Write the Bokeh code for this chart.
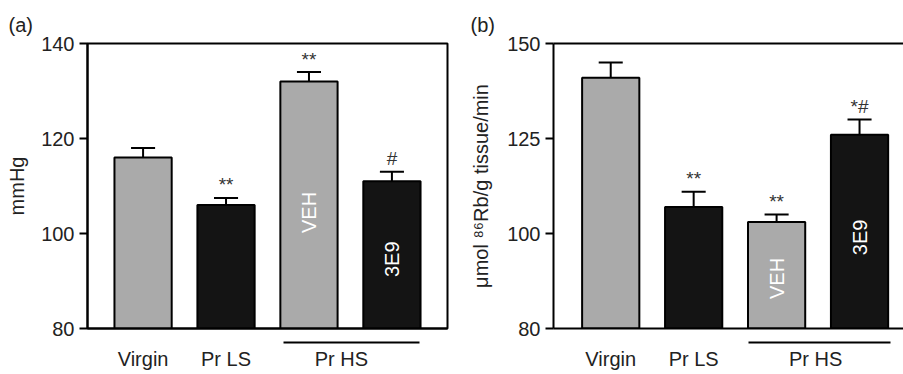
import math
from bokeh.plotting import figure
from bokeh.layouts import row
from bokeh.models import FixedTicker, LinearAxis, Range1d
from bokeh.core.properties import value
from bokeh.embed import file_html
from bokeh.resources import INLINE

FONT = "Liberation Sans"
TXT = "#222222"

# ---------------- data ----------------
groups = ["Virgin", "Pr LS", "Pr HS VEH", "Pr HS 3E9"]
x_pos = [1, 2, 3, 4]
bar_colors = ["#aaaaaa", "#141414", "#aaaaaa", "#141414"]
inbar_labels = ["", "", "VEH", "3E9"]

a_mean = [116, 106, 132, 111]
a_err = [2.0, 1.5, 2.0, 2.0]
a_sig = ["", "**", "**", "#"]
a_ticks = [80, 100, 120, 140]
a_tick_labels = ["80", "100", "120", "140"]

b_mean = [141, 107, 103, 126]
b_err = [4.0, 4.0, 2.0, 4.0]
b_sig = ["", "**", "**", "*#"]
b_ticks = [75, 100, 125, 150]
b_tick_labels = ["80", "100", "125", "150"]

cat_labels = ["Virgin", "Pr LS", "Pr HS"]


def make_panel(mean, err, sig, ticks, tick_labels, ylabel, panel_label,
               xr, fw, bl, br, full_box, hs_pos, bracket, ylab_standoff,
               title_offset):
    lo, hi = ticks[0], ticks[-1]
    p = figure(frame_width=fw, frame_height=285, x_range=Range1d(*xr),
               y_range=Range1d(lo, hi), output_backend="svg", toolbar_location=None,
               min_border_left=bl, min_border_right=br, min_border_top=43,
               min_border_bottom=46)
    p.grid.visible = False
    p.background_fill_color = "white"
    p.border_fill_color = "white"

    p.title.text = panel_label
    p.title.align = "left"
    p.title.offset = title_offset
    p.title.standoff = 15
    p.title.text_font = FONT
    p.title.text_font_size = "20px"
    p.title.text_font_style = "normal"
    p.title.text_color = TXT

    ya = p.left[0]
    ya.ticker = FixedTicker(ticks=ticks)
    ya.major_label_overrides = {t: l for t, l in zip(ticks, tick_labels)}
    ya.axis_line_width = 2
    ya.major_tick_line_width = 2
    ya.major_tick_out = 8
    ya.major_tick_in = 0
    ya.minor_tick_line_color = None
    ya.major_label_text_font = FONT
    ya.major_label_text_font_size = "20px"
    ya.major_label_text_color = TXT
    ya.major_label_standoff = 5
    ya.axis_label = ylabel
    ya.axis_label_text_font = FONT
    ya.axis_label_text_font_size = "20px"
    ya.axis_label_text_font_style = "normal"
    ya.axis_label_text_color = TXT
    ya.axis_label_standoff = ylab_standoff

    # bottom frame line; an invisible tick reserves the gap above the bracket
    xa = p.below[0]
    xa.ticker = FixedTicker(ticks=[1])
    xa.major_label_overrides = {1: ""}
    xa.major_tick_line_color = None
    xa.minor_tick_line_color = None
    xa.major_tick_out = 14
    xa.major_tick_in = 0
    xa.major_label_standoff = 0
    xa.major_label_text_font_size = "1px"
    xa.axis_line_width = 2

    # group bracket under "Pr HS"
    br_axis = LinearAxis(ticker=FixedTicker(ticks=[]), bounds=bracket,
                         major_tick_line_color=None, minor_tick_line_color=None,
                         major_tick_out=0, major_tick_in=0, major_label_standoff=0,
                         axis_line_width=2, axis_line_color="black")
    p.add_layout(br_axis, "below")

    # category labels
    lab_axis = LinearAxis(ticker=FixedTicker(ticks=[1, 2, hs_pos]),
                          major_label_overrides={t: l for t, l in zip([1, 2, hs_pos], cat_labels)},
                          axis_line_color=None, major_tick_line_color=None,
                          minor_tick_line_color=None, major_tick_out=0, major_tick_in=0,
                          major_label_standoff=5, major_label_text_font=FONT,
                          major_label_text_font_size="20px", major_label_text_color=TXT)
    p.add_layout(lab_axis, "below")

    if full_box:
        p.outline_line_color = "black"
        p.outline_line_width = 2
    else:
        p.outline_line_color = None
        p.add_layout(LinearAxis(ticker=FixedTicker(ticks=[]), major_tick_line_color=None,
                                minor_tick_line_color=None, major_tick_out=0,
                                major_tick_in=0, major_label_standoff=0,
                                axis_line_width=2, axis_line_color="black"), "above")

    p.vbar(x=x_pos, top=mean, bottom=lo, width=0.69, fill_color=bar_colors,
           line_color="black", line_width=2)

    tops = [m + e for m, e in zip(mean, err)]
    p.segment(x0=x_pos, y0=mean, x1=x_pos, y1=tops, line_color="black", line_width=2)
    p.segment(x0=[x - 0.145 for x in x_pos], y0=tops, x1=[x + 0.145 for x in x_pos],
              y1=tops, line_color="black", line_width=2)

    p.text(x=x_pos, y=tops, text=sig, text_align="center", text_baseline="alphabetic",
           y_offset=-13, text_font=value(FONT), text_font_size="19px",
           text_color="#333333")

    mids = [lo + 0.47 * (m - lo) for m in mean]
    p.text(x=x_pos, y=mids, text=inbar_labels, angle=math.pi / 2,
           text_align="center", text_baseline="middle", text_font=value(FONT),
           text_font_size="20px", text_color="white")
    return p


pa = make_panel(a_mean, a_err, a_sig, a_ticks, a_tick_labels, "mmHg", "(a)",
                (0.33, 4.67), 360, 87, 3, True, 3.39, (2.69, 4.33), 10, -79)
pb = make_panel(b_mean, b_err, b_sig, b_ticks, b_tick_labels,
                "\u03bcmol \u2078\u2076Rb/g tissue/min", "(b)",
                (0.31, 4.53), 350, 103, 0, False, 3.47, (2.66, 4.37), 12, -83)

layout = row(pa, pb)
open("out.html", "w").write(file_html(layout, INLINE))
